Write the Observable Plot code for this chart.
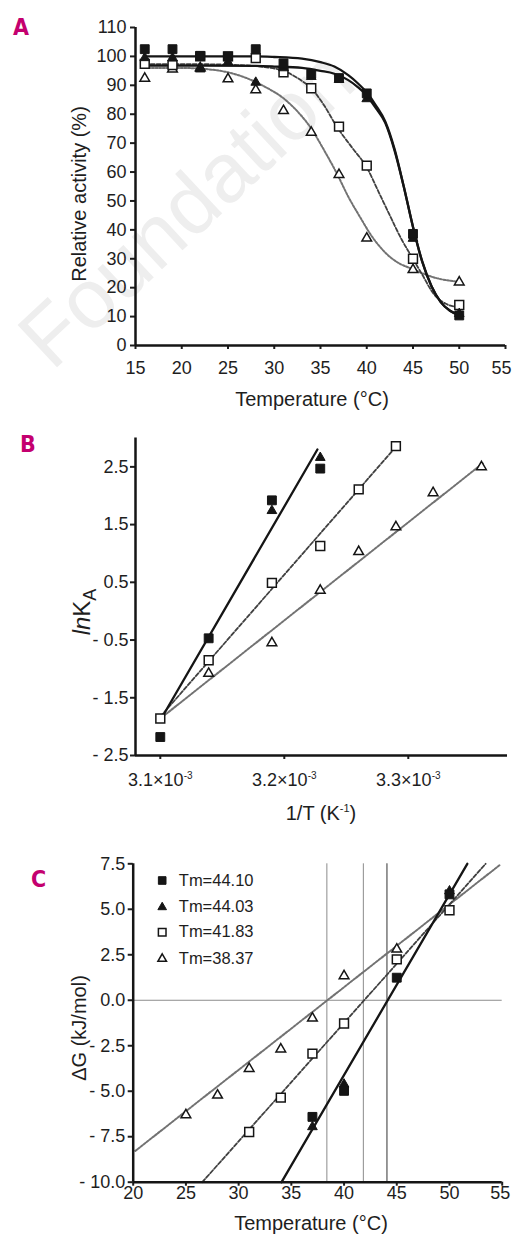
<!DOCTYPE html>
<html>
<head>
<meta charset="utf-8">
<script src="https://cdn.jsdelivr.net/npm/d3@7"></script>
<script src="https://cdn.jsdelivr.net/npm/@observablehq/plot@0.6"></script>
<style>
html,body{margin:0;padding:0;background:#fff;}
#wrap{position:relative;width:512px;height:1242px;overflow:hidden;}
.panel{position:absolute;left:0;z-index:1;}
#overlay{position:absolute;left:0;top:0;z-index:0;}
#tags{position:absolute;left:0;top:0;z-index:2;pointer-events:none;}
</style>
</head>
<body>
<div id="wrap">
  <svg id="overlay" width="512" height="1242"></svg>
  <div class="panel" id="pA" style="top:0px"></div>
  <div class="panel" id="pB" style="top:410px"></div>
  <div class="panel" id="pC" style="top:830px"></div>
  <svg id="tags" width="512" height="1242"></svg>
</div>
<script>
const FONT = '"Liberation Sans", Arial, Helvetica, sans-serif';
const TAGFONT = '"DejaVu Sans Condensed", "Liberation Sans", sans-serif';

// ---------- Panel A : relative activity vs temperature ----------
const tempA = [16, 19, 22, 25, 28, 31, 34, 37, 40, 45, 50];
const actFilledSquare   = [102.5, 102.5, 100.2, 100, 102.5, 97.6, 94, 92.5, 87.2, 38.6, 10.4];
const actFilledTriangle = [99.5, 99.5, 95.6, 98, 91, 96, 93, 92, 85.3, 37, 11];
const actOpenSquare     = [97.4, 97, 100, 100, 99.4, 94.5, 89, 75.7, 62.2, 30, 14];
const actOpenTriangle   = [92.4, 95.6, 96, 92.2, 88.4, 81.2, 73.7, 59.1, 37.1, 26.2, 21.9];

// fitted curves
const fitA1T = [16, 22, 28, 30, 33, 35, 36.5, 38, 39, 40, 41, 42, 43, 44, 45, 46, 47, 48, 49, 50];
const fitA1Y = [100, 100, 100, 99.8, 99.2, 98, 96.5, 93.5, 90.8, 87.5, 83, 77.5, 68, 55, 41, 29, 20.5, 15, 12, 10.5];
const fitA2T = [16, 22, 28, 30, 33, 35, 36.5, 38, 39, 40, 41, 42, 43, 44, 45, 46, 47, 48, 49, 50];
const fitA2Y = [96.8, 96.8, 96.7, 96.5, 96, 95, 94, 91.8, 89.5, 86.5, 82, 77, 67.5, 55, 41, 29, 20.5, 15, 12, 10.5];
const fitA3T = [16, 22, 26, 29, 31, 33, 33.9, 35.4, 36.8, 38.4, 40, 41.3, 42.6, 43.8, 44.9, 46, 47.2, 48.5, 50];
const fitA3Y = [97.3, 97.3, 97, 96.3, 95, 91.5, 89.3, 83, 75.5, 68.5, 61.6, 53, 44.3, 36.5, 30.5, 24.5, 18, 14.5, 13.2];
const fitA4T = [16, 20, 23, 25, 27, 29, 31, 32.5, 33.9, 35.4, 36.8, 38, 39.3, 40.5, 41.8, 43.3, 44.9, 47.2, 50];
const fitA4Y = [96, 96, 95.5, 94.5, 92.5, 89.5, 85.5, 81, 75.5, 67.5, 59.3, 51.5, 44.3, 38, 32.8, 28.8, 26.5, 23.6, 22];

const xTicksA = [15, 20, 25, 30, 35, 40, 45, 50, 55];
const yTicksA = [0, 10, 20, 30, 40, 50, 60, 70, 80, 90, 100, 110];

// ---------- Panel B : ln K_A vs 1/T (x in units of 10^-3 K^-1) ----------
const invTFilledSquare = [3.100, 3.139, 3.190, 3.229];
const lnKFilledSquare  = [-2.18, -0.47, 1.92, 2.47];
const invTFilledTriangle = [3.190, 3.229];
const lnKFilledTriangle  = [1.74, 2.66];
const invTOpenSquare = [3.100, 3.139, 3.190, 3.229, 3.260, 3.290];
const lnKOpenSquare  = [-1.86, -0.85, 0.49, 1.13, 2.11, 2.86];
const invTOpenTriangle = [3.139, 3.190, 3.229, 3.260, 3.290, 3.320, 3.359];
const lnKOpenTriangle  = [-1.08, -0.55, 0.36, 1.03, 1.46, 2.05, 2.50];

const fitBSolidX = [3.100, 3.2267];  const fitBSolidY = [-1.89, 2.80];
const fitBDashX  = [3.100, 3.2913];  const fitBDashY  = [-1.83, 2.88];
const fitBDotX   = [3.100, 3.360];   const fitBDotY   = [-1.86, 2.56];

const xTicksB = [3.1, 3.2, 3.3];
const yTicksB = [-2.5, -1.5, -0.5, 0.5, 1.5, 2.5];

// ---------- Panel C : ΔG vs temperature ----------
const tempCFilledSquare = [37, 40, 45, 50];
const dGFilledSquare    = [-6.41, -4.98, 1.24, 5.82];
const tempCFilledTriangle = [37, 40, 50];
const dGFilledTriangle    = [-6.96, -4.62, 6.0];
const tempCOpenSquare = [31, 34, 37, 40, 45, 50];
const dGOpenSquare    = [-7.24, -5.35, -2.93, -1.28, 2.25, 4.95];
const tempCOpenTriangle = [25, 28, 31, 34, 37, 40, 45];
const dGOpenTriangle    = [-6.30, -5.22, -3.76, -2.69, -0.99, 1.34, 2.80];

const fitCSolidT = [34.07, 51.69]; const fitCSolidY = [-10, 7.5];
const fitCDashT  = [26.55, 53.43]; const fitCDashY  = [-10, 7.5];
const fitCDotT   = [20.2, 54.85];  const fitCDotY   = [-8.28, 7.47];

const tmValues = [44.10, 44.03, 41.83, 38.37];
const legendLabels = ["Tm=44.10", "Tm=44.03", "Tm=41.83", "Tm=38.37"];
const legendSymbols = ["square", "triangle", "square", "triangle"];
const legendFilled = [true, true, false, false];

const xTicksC = [20, 25, 30, 35, 40, 45, 50, 55];
const yTicksC = [-10, -7.5, -5, -2.5, 0, 2.5, 5, 7.5];

// ---------- helpers ----------
const pts = (xs, ys) => xs.map((x, i) => ({x, y: ys[i]}));
const INK = "#151515";
const TXT = "#1e1e1e";
const solid = {stroke: INK, strokeWidth: 2.3};
const dashed = {stroke: "#404040", strokeWidth: 1.8, strokeDasharray: "4 2"};
const dotted = {stroke: "#727272", strokeWidth: 2, strokeDasharray: "2 1.6"};
function dots(data, symbol, filled, r) {
  return Plot.dot(data, {x: "x", y: "y", symbol, r,
    fill: filled ? INK : "white", stroke: INK, strokeWidth: filled ? 1 : 1.5});
}
const signed = d => (d < 0 ? "- " + Math.abs(d).toFixed(1) : d.toFixed(1));
const baseStyle = {fontFamily: FONT, fontSize: "18px", color: TXT, background: "transparent", overflow: "visible"};

function addTitle(svg, txt, x, y, rotate, size = 20) {
  const t = d3.select(svg).append("text")
    .attr("text-anchor", "middle")
    .attr("font-family", FONT).attr("font-size", size).attr("fill", TXT)
    .attr("transform", `translate(${x},${y})` + (rotate ? " rotate(-90)" : ""));
  if (typeof txt === "string") t.text(txt);
  else txt(t);
  return t;
}
function nudgeTick(svg, label, dx) {
  d3.select(svg).selectAll("text").each(function() {
    if (this.textContent === label && !this.getAttribute("dx")) d3.select(this).attr("dx", dx);
  });
}

// ---------- Plot A ----------
const plotA = Plot.plot({
  width: 512, height: 410,
  marginLeft: 135, marginRight: 7, marginTop: 27, marginBottom: 65,
  x: {domain: [15, 55]},
  y: {domain: [0, 110]},
  style: baseStyle,
  marks: [
    Plot.line(pts(fitA4T, fitA4Y), {x: "x", y: "y", curve: "monotone-x", ...dotted}),
    Plot.line(pts(fitA3T, fitA3Y), {x: "x", y: "y", curve: "monotone-x", ...dashed}),
    Plot.line(pts(fitA2T, fitA2Y), {x: "x", y: "y", curve: "monotone-x", ...solid}),
    Plot.line(pts(fitA1T, fitA1Y), {x: "x", y: "y", curve: "monotone-x", ...solid}),
    dots(pts(tempA, actOpenTriangle), "triangle", false, 3.6),
    dots(pts(tempA, actOpenSquare), "square", false, 5),
    dots(pts(tempA, actFilledTriangle), "triangle", true, 3.6),
    dots(pts(tempA, actFilledSquare), "square", true, 5),
    Plot.axisX({ticks: xTicksA, tickSize: 4, tickPadding: 12, strokeWidth: 2, label: null}),
    Plot.axisY({ticks: yTicksA, tickSize: 5, tickPadding: 4, strokeWidth: 2, label: null}),
    Plot.ruleX([15], {stroke: INK, strokeWidth: 2.5}),
    Plot.ruleY([0], {stroke: INK, strokeWidth: 2.5})
  ]
});
nudgeTick(plotA, "55", -4);
addTitle(plotA, "Temperature (°C)", 312, 406, false);
addTitle(plotA, "Relative activity (%)", 86, 194, true);
document.getElementById("pA").appendChild(plotA);

// ---------- Plot B ----------
const plotB = Plot.plot({
  width: 512, height: 420,
  marginLeft: 135, marginRight: 5, marginTop: 27.5, marginBottom: 75,
  x: {domain: [3.08, 3.38]},
  y: {domain: [-2.5, 3.0]},
  style: baseStyle,
  marks: [
    Plot.line(pts(fitBDotX, fitBDotY), {x: "x", y: "y", ...dotted}),
    Plot.line(pts(fitBDashX, fitBDashY), {x: "x", y: "y", ...dashed}),
    Plot.line(pts(fitBSolidX, fitBSolidY), {x: "x", y: "y", ...solid}),
    dots(pts(invTOpenTriangle, lnKOpenTriangle), "triangle", false, 3.6),
    dots(pts(invTOpenSquare, lnKOpenSquare), "square", false, 5),
    dots(pts(invTFilledTriangle, lnKFilledTriangle), "triangle", true, 3.6),
    dots(pts(invTFilledSquare, lnKFilledSquare), "square", true, 5),
    Plot.axisX({ticks: xTicksB, tickSize: 4, tickPadding: 14, strokeWidth: 2, label: null,
      tickFormat: d => d.toFixed(1) + "×10"}),
    Plot.axisY({ticks: yTicksB, tickSize: 5, tickPadding: 2, strokeWidth: 2, label: null, tickFormat: signed}),
    Plot.ruleX([3.08], {stroke: INK, strokeWidth: 2.5}),
    Plot.ruleY([-2.5], {stroke: INK, strokeWidth: 2.5})
  ]
});
d3.select(plotB).selectAll("text").each(function() {
  if (/×10$/.test(this.textContent)) {
    d3.select(this).append("tspan").attr("dy", -7).attr("font-size", "10px").text("-3");
  }
});
addTitle(plotB, t => {
  t.text("1/T (K");
  t.append("tspan").attr("dy", -8).attr("font-size", "11px").text("-1");
  t.append("tspan").attr("dy", 8).text(")");
}, 321, 410, false);
addTitle(plotB, t => {
  t.append("tspan").attr("font-style", "italic").text("ln");
  t.append("tspan").text("K");
  t.append("tspan").attr("dy", 6).attr("font-size", "18px").text("A");
}, 90, 202, true, 24);
document.getElementById("pB").appendChild(plotB);

// ---------- Plot C ----------
const legendMarks = [];
const rowDy = [16.7, 43.4, 68.4, 95];
legendLabels.forEach((lab, i) => {
  legendMarks.push(Plot.dot([lab], {frameAnchor: "top-left", dx: 29, dy: rowDy[i],
    symbol: legendSymbols[i], r: legendSymbols[i] === "square" ? 4.3 : 3.2,
    fill: legendFilled[i] ? INK : "white", stroke: INK, strokeWidth: legendFilled[i] ? 1 : 1.5}));
  legendMarks.push(Plot.text([lab], {text: d => d, frameAnchor: "top-left", dx: 45.6, dy: rowDy[i],
    textAnchor: "start", lineAnchor: "middle", fontSize: 16.5, fill: TXT}));
});

const plotC = Plot.plot({
  width: 512, height: 412,
  marginLeft: 132.7, marginRight: 10.3, marginTop: 33.3, marginBottom: 60.3,
  x: {domain: [20, 55]},
  y: {domain: [-10, 7.5]},
  style: baseStyle,
  marks: [
    Plot.ruleX(tmValues, {stroke: "#8c8c8c", strokeWidth: 1}),
    Plot.ruleY([0], {stroke: "#8c8c8c", strokeWidth: 1}),
    Plot.line(pts(fitCDotT, fitCDotY), {x: "x", y: "y", ...dotted}),
    Plot.line(pts(fitCDashT, fitCDashY), {x: "x", y: "y", ...dashed}),
    Plot.line(pts(fitCSolidT, fitCSolidY), {x: "x", y: "y", ...solid}),
    dots(pts(tempCOpenTriangle, dGOpenTriangle), "triangle", false, 3.6),
    dots(pts(tempCOpenSquare, dGOpenSquare), "square", false, 5),
    dots(pts(tempCFilledTriangle, dGFilledTriangle), "triangle", true, 3.6),
    dots(pts(tempCFilledSquare, dGFilledSquare), "square", true, 5),
    ...legendMarks,
    Plot.axisX({ticks: xTicksC, tickSize: 4, tickPadding: 0, strokeWidth: 2, label: null}),
    Plot.axisY({ticks: yTicksC, tickSize: 5, tickPadding: 3, strokeWidth: 2, label: null, tickFormat: signed}),
    Plot.ruleX([20], {stroke: INK, strokeWidth: 2.5}),
    Plot.ruleY([-10], {stroke: INK, strokeWidth: 2.5})
  ]
});
nudgeTick(plotC, "55", -2);
addTitle(plotC, "Temperature (°C)", 311, 400, false);
addTitle(plotC, "ΔG (kJ/mol)", 86, 198, true);
document.getElementById("pC").appendChild(plotC);

// ---------- panel letters and watermark ----------
const tags = d3.select("#tags");
[["A", 13, 35], ["B", 20, 452], ["C", 31, 887]].forEach(([l, x, y]) => {
  tags.append("text").attr("x", x).attr("y", y).attr("font-family", TAGFONT)
    .attr("font-weight", "bold").attr("font-size", 23).attr("fill", "#c4006f").text(l);
});
d3.select("#overlay").append("text")
  .attr("transform", "translate(52,372) rotate(-43)")
  .attr("font-family", FONT)
  .attr("font-size", 84).attr("fill", "#eeeeee").text("Foundation");
</script>
</body>
</html>
